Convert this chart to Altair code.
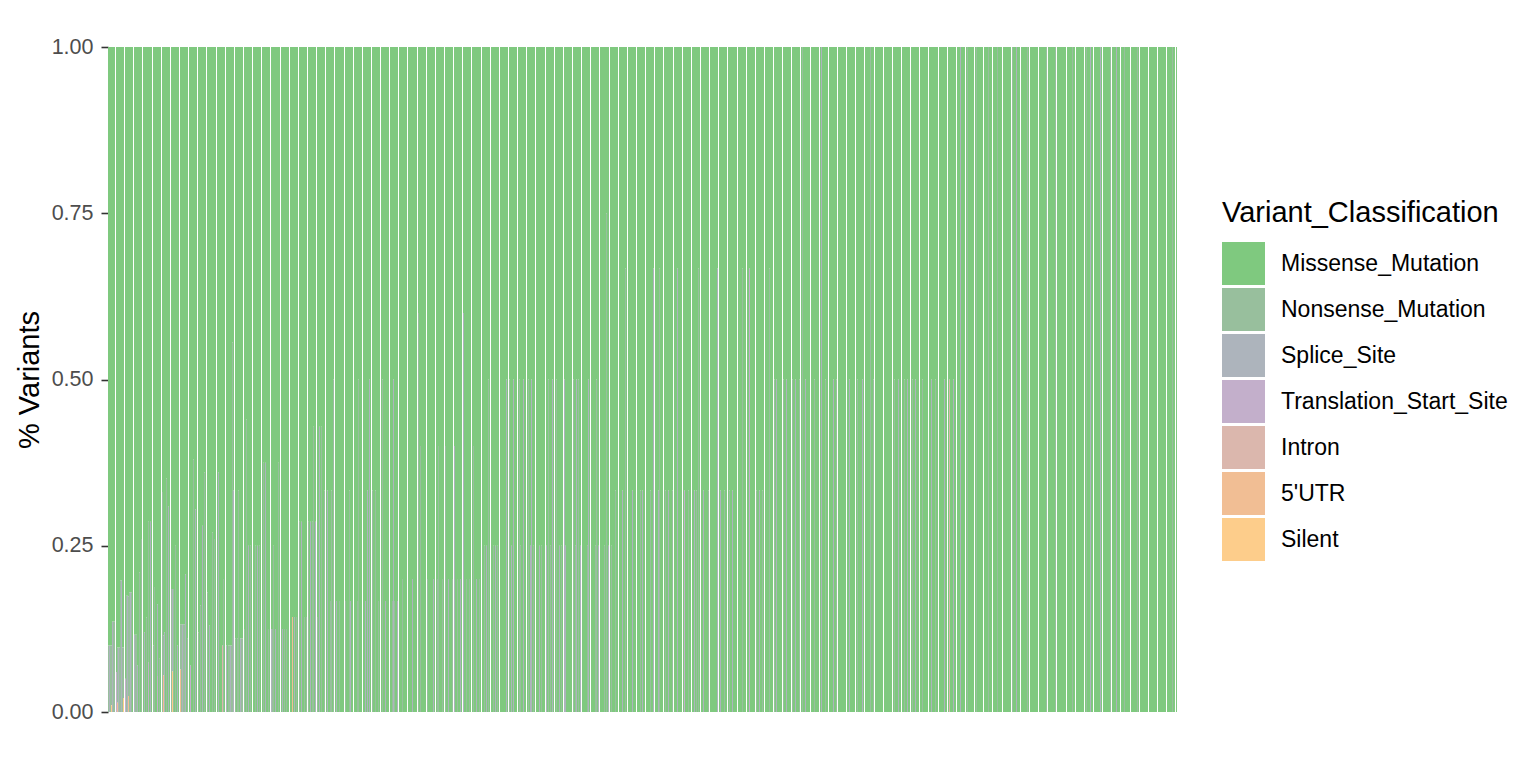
import altair as alt
import pandas as pd

# ---------------------------------------------------------------- data
# genes are ranked left -> right (most variants on the left, single-variant genes on the right)
N_GENES = 1069

classes = ["Missense_Mutation", "Nonsense_Mutation", "Splice_Site",
           "Translation_Start_Site", "Intron", "5'UTR", "Silent"]
colors = ["#7FC97F", "#98BF9D", "#ADB4BC", "#C3AFCB", "#DBB7AD", "#F1BE94", "#FDCD8B"]
stack_rank = {"Silent": 0, "5'UTR": 1, "Intron": 2, "Translation_Start_Site": 3,
              "Splice_Site": 4, "Nonsense_Mutation": 5, "Missense_Mutation": 6}

# (gene rank, share of the gene's variants) for every non-missense class
nonsense = [
    (0, .10), (2, .10), (3, .09), (5, .136), (6, .136), (9, .083), (11, .097), (12, .198),
    (14, .097), (15, .076), (18, .175), (20, .15), (21, .18), (23, .18), (25, .116), (27, .116),
    (28, .116), (31, .21), (33, .26), (38, .142), (40, .212), (45, .10), (46, .188), (51, .08),
    (54, .331), (55, .06), (58, .351), (62, .185), (63, .185), (65, .185), (67, .25), (72, .068),
    (73, .132), (75, .132), (76, .132), (79, .11), (85, .38), (90, .12), (92, .16), (96, .36),
    (99, .18), (104, .27), (106, .26),
    (115, .2), (117, .1), (120, .1), (121, .1), (123, .1),
    (124, .556), (127, .111), (129, .111), (130, .333), (133, .111), (134, .111),
    (136, .125), (138, .44), (142, .25), (144, .25), (147, .25), (151, .25), (153, .125),
    (155, .375), (160, .125), (164, .125), (165, .25), (170, .375), (172, .125), (176, .125),
    (178, .125),
    (181, .143), (188, .143), (191, .286), (196, .143), (198, .143), (200, .286), (204, .286),
    (205, .429), (209, .143), (213, .429),
    (222, .167), (231, .167), (237, .167), (249, .167), (254, .167), (263, .167), (270, .167),
    (284, .167), (286, .167), (216, .333), (223, .333), (241, .333), (264, .333), (267, .333),
    (225, .5), (250, .5), (274, .5), (281, .5),
    (294, .2), (309, .2), (319, .2), (329, .2), (334, .2), (344, .2), (349, .2), (358, .2),
    (361, .2), (371, .2), (312, .4), (330, .4), (337, .4), (365, .4), (310, .6),
    (376, .25), (385, .25), (389, .25), (412, .25), (425, .25), (433, .25), (442, .25),
    (453, .25), (467, .25), (479, .25), (487, .25), (496, .25), (503, .25),
    (380, .5), (401, .5), (411, .5), (420, .5), (440, .5), (448, .5), (465, .5), (470, .5),
    (488, .5), (498, .75),
    (507, .333), (519, .333), (532, .333), (542, .333), (557, .333), (564, .333), (580, .333),
    (588, .333), (600, .333), (616, .333), (621, .333), (648, .333), (654, .333),
    (517, .667), (551, .667), (590, .667), (634, .667), (661, .667),
    (666, .5), (675, .5), (684, .5), (691, .5), (706, .5), (717, .5), (728, .5), (749, .5),
    (765, .5), (786, .5), (796, .5), (804, .5), (814, .5), (827, .5), (839, .5),
    (694, 1.0), (762, 1.0),
    (859, 1.0), (868, 1.0), (880, 1.0), (889, 1.0), (904, 1.0), (919, 1.0), (938, 1.0),
    (947, 1.0), (964, 1.0), (978, 1.0), (1002, 1.0), (1016, 1.0), (1029, 1.0), (1064, 1.0),
]
splice = [
    (1, .10), (4, .136), (10, .097), (13, .198), (19, .175), (22, .18), (26, .116), (29, .07),
    (36, .12), (42, .286), (49, .108), (56, .12), (60, .309), (64, .124), (69, .10), (74, .132),
    (77, .207), (87, .305), (94, .28), (101, .13), (110, .36),
    (118, .1), (122, .1), (125, .333), (132, .111),
    (140, .25), (149, .25), (157, .375), (163, .125), (167, .125), (174, .125),
    (186, .143), (193, .286), (202, .286), (207, .286), (211, .429),
    (228, .167), (242, .167), (257, .167), (277, .167), (289, .167), (219, .333), (259, .333),
    (261, .5), (285, .5),
    (304, .2), (325, .2), (340, .2), (352, .2), (368, .2), (318, .4), (346, .4), (355, .6),
    (378, .25), (387, .25), (403, .25), (422, .25), (431, .25), (438, .25), (451, .25),
    (457, .25), (472, .25), (482, .25), (490, .25), (500, .25),
    (398, .5), (405, .5), (415, .5), (423, .5), (444, .5), (456, .5), (468, .5), (480, .5),
    (514, .333), (524, .333), (534, .333), (550, .333), (560, .333), (586, .333), (595, .333),
    (612, .333), (619, .333), (624, .333), (651, .333),
    (545, .667), (569, .667), (609, .667),
    (668, .5), (678, .5), (687, .5), (697, .5), (711, .5), (725, .5), (741, .5), (754, .5),
    (775, .5), (790, .5), (799, .5), (807, .5), (823, .5), (836, .5), (845, .5),
    (713, 1.0),
    (852, 1.0), (908, 1.0), (912, 1.0), (982, 1.0), (992, 1.0), (1008, 1.0), (1040, 1.0),
]
translation_start = [(8, .06), (17, .05), (40, .074), (49, .054), (82, .07), (576, .333), (641, .667)]
intron = [(114, .10), (841, .5)]
utr5 = [(9, .014), (20, .024), (55, .055), (72, .064), (184, .143)]
silent = [(3, .01), (15, .021), (64, .061)]

special = {
    "Nonsense_Mutation": nonsense,
    "Splice_Site": splice,
    "Translation_Start_Site": translation_start,
    "Intron": intron,
    "5'UTR": utr5,
    "Silent": silent,
}

# ---------------------------------------------------------------- table
shares = {g: {} for g in range(N_GENES)}
for cls, pairs in special.items():
    for g, f in pairs:
        shares[g][cls] = f

rows = []
for g in range(N_GENES):
    name = f"G{g:04d}"
    other = 0.0
    for cls, f in shares[g].items():
        rows.append({"gene": name, "cls": cls, "frac": f, "ord": stack_rank[cls]})
        other += f
    if other < 0.999:
        rows.append({"gene": name, "cls": "Missense_Mutation", "frac": 1 - other,
                     "ord": stack_rank["Missense_Mutation"]})
df = pd.DataFrame(rows)

# thin white gaps between bars, as in the original raster (every ~9 genes)
gap_genes = []
k = 0
while True:
    g = int(round(7 + k * 9.14))
    if g >= N_GENES:
        break
    gap_genes.append(g)
    k += 1
gaps = pd.DataFrame({"gene": [f"G{g:04d}" for g in gap_genes], "y0": 0.0, "y1": 1.0})

FONT = "Liberation Sans"

yaxis = alt.Axis(values=[0, 0.25, 0.5, 0.75, 1], format=".2f", grid=False, domain=False,
                 labelFont=FONT, labelFontSize=21.5, labelColor="#4D4D4D", labelPadding=8,
                 tickColor="#333333", tickSize=7, tickWidth=1.6,
                 titleFont=FONT, titleFontSize=29, titleColor="black",
                 titleFontWeight="normal", titlePadding=7, title="% Variants")

xscale = alt.Scale(paddingInner=0, paddingOuter=0)
yscale = alt.Scale(domain=[0, 1], nice=False, zero=True)

bars = alt.Chart(df).mark_bar().encode(
    x=alt.X("gene:O", axis=None, scale=xscale),
    y=alt.Y("frac:Q", stack="zero", scale=yscale, axis=yaxis),
    color=alt.Color(
        "cls:N",
        scale=alt.Scale(domain=classes, range=colors),
        legend=alt.Legend(
            title="Variant_Classification", orient="none", legendX=1114, legendY=152,
            titleFont=FONT, titleFontSize=29, titleColor="black", titleFontWeight="normal",
            titleLimit=600, titlePadding=14, labelFont=FONT, labelFontSize=23,
            labelColor="black", labelOffset=16, labelLimit=400, symbolType="square",
            symbolSize=1849, symbolStrokeWidth=0, symbolOpacity=1, rowPadding=3, padding=0,
        ),
    ),
    order=alt.Order("ord:Q", sort="ascending"),
)

sep = alt.Chart(gaps).mark_rule(color="white", strokeWidth=1).encode(
    x=alt.X("gene:O", axis=None, scale=xscale),
    y=alt.Y("y0:Q", scale=yscale, axis=yaxis),
    y2="y1:Q",
)

chart = alt.layer(bars, sep).properties(
    width=N_GENES, height=665,
    autosize=alt.AutoSizeParams(type="none"),
    padding={"left": 108, "top": 47, "right": 359, "bottom": 56},
    background="white",
).configure_view(stroke=None)

chart.save("out.html", embed_options={"renderer": "svg", "actions": False})
